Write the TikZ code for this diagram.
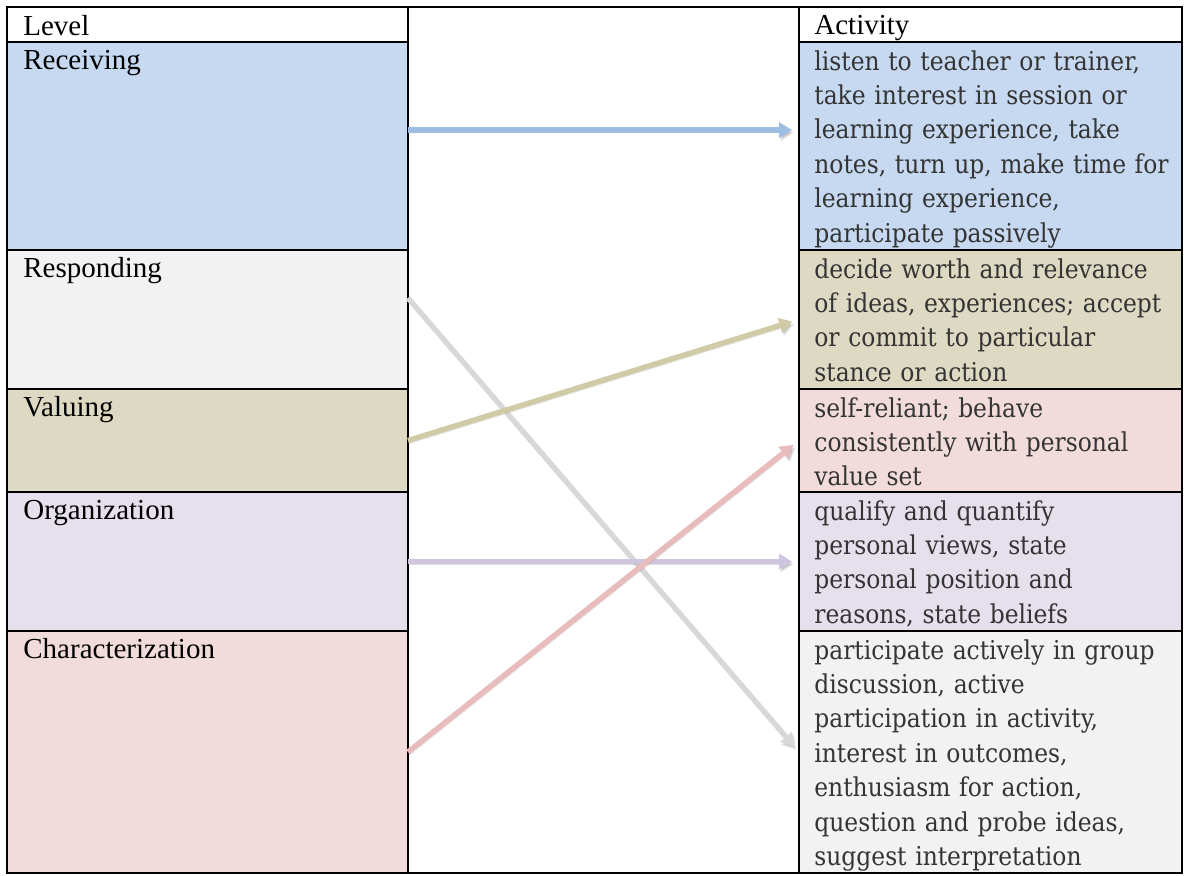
\documentclass[tikz,border=0pt]{standalone}
\usepackage{fontspec}
\setmainfont{Liberation Serif}
\newfontfamily\actfont{DejaVu Serif Condensed}
\usetikzlibrary{positioning, arrows.meta}

\definecolor{recvblue}{RGB}{198,217,241}
\definecolor{respgray}{RGB}{242,242,242}
\definecolor{valutan}{RGB}{221,217,195}
\definecolor{orglilac}{RGB}{229,224,236}
\definecolor{charpink}{RGB}{242,220,219}
\definecolor{recvarrow}{RGB}{157,189,228}
\definecolor{resparrow}{RGB}{216,216,216}
\definecolor{valuarrow}{RGB}{209,202,166}
\definecolor{orgarrow}{RGB}{207,197,222}
\definecolor{chararrow}{RGB}{232,188,188}
\definecolor{acttext}{RGB}{52,52,52}

\tikzstyle{cell} = [draw=black, line width=1pt, inner sep=0pt, outer sep=0pt, anchor=north west]
\tikzstyle{leftcell} = [cell, minimum width=200.5pt]
\tikzstyle{rightcell} = [cell, minimum width=191.5pt]
\tikzstyle{levelname} = [anchor=base west, inner sep=0pt, font=\fontsize{14.5}{17}\selectfont]
\tikzstyle{activity} = [anchor=base west, inner sep=0pt, align=left, text width=187pt, text=acttext,
                        font=\actfont\fontsize{13}{17.2}\selectfont]
\tikzstyle{link} = [line width=2.7pt, -{Triangle[length=6.5pt, width=7.5pt]}, shorten >=3.5pt,
                    preaction={draw=black, opacity=0.13, transform canvas={shift={(0.8pt,-1.4pt)}}}]

\begin{document}
\begin{tikzpicture}[x=0.5pt, y=-0.5pt]
	\useasboundingbox (0,0) rectangle (1185,875);

	% level column
	\node[leftcell, minimum height=17.5pt] (hdLevel) at (7,7) {};
	\node[leftcell, fill=recvblue, minimum height=104pt, below=0pt of hdLevel] (recv) {};
	\node[leftcell, fill=respgray, minimum height=69.5pt, below=0pt of recv] (resp) {};
	\node[leftcell, fill=valutan, minimum height=51.5pt, below=0pt of resp] (valu) {};
	\node[leftcell, fill=orglilac, minimum height=69.5pt, below=0pt of valu] (org) {};
	\node[leftcell, fill=charpink, minimum height=121pt, below=0pt of org] (char) {};

	% empty middle column
	\node[cell, minimum width=195.5pt, minimum height=433pt] (mid) at (408,7) {};

	% activity column
	\node[rightcell, minimum height=17.5pt, right=195.5pt of hdLevel] (hdAct) {};
	\node[rightcell, fill=recvblue, minimum height=104pt, right=195.5pt of recv] (actRecv) {};
	\node[rightcell, fill=valutan, minimum height=69.5pt, right=195.5pt of resp] (actResp) {};
	\node[rightcell, fill=charpink, minimum height=51.5pt, right=195.5pt of valu] (actValu) {};
	\node[rightcell, fill=orglilac, minimum height=69.5pt, right=195.5pt of org] (actOrg) {};
	\node[rightcell, fill=respgray, minimum height=121pt, right=195.5pt of char] (actChar) {};

	\node[levelname] (tLevel) at ([xshift=8pt, yshift=-14pt]hdLevel.north west) {Level};
	\node[levelname] (tRecv) at ([xshift=8pt, yshift=-13.5pt]recv.north west) {Receiving};
	\node[levelname] (tResp) at ([xshift=8pt, yshift=-13.5pt]resp.north west) {Responding};
	\node[levelname] (tValu) at ([xshift=8pt, yshift=-13.5pt]valu.north west) {Valuing};
	\node[levelname] (tOrg) at ([xshift=8pt, yshift=-13.5pt]org.north west) {Organization};
	\node[levelname] (tChar) at ([xshift=8pt, yshift=-13.5pt]char.north west) {Characterization};

	\node[levelname] (tAct) at ([xshift=7.5pt, yshift=-13.5pt]hdAct.north west) {Activity};
	\node[activity] (tActRecv) at ([xshift=7.5pt, yshift=-14pt]actRecv.north west)
		{listen to teacher or trainer,\\ take interest in session or\\ learning experience, take\\
		 notes, turn up, make time for\\ learning experience,\\ participate passively};
	\node[activity] (tActResp) at ([xshift=7.5pt, yshift=-14pt]actResp.north west)
		{decide worth and relevance\\ of ideas, experiences; accept\\ or commit to particular\\ stance or action};
	\node[activity] (tActValu) at ([xshift=7.5pt, yshift=-14pt]actValu.north west)
		{self-reliant; behave\\ consistently with personal\\ value set};
	\node[activity] (tActOrg) at ([xshift=7.5pt, yshift=-14pt]actOrg.north west)
		{qualify and quantify\\ personal views, state\\ personal position and\\ reasons, state beliefs};
	\node[activity] (tActChar) at ([xshift=7.5pt, yshift=-14pt]actChar.north west)
		{participate actively in group\\ discussion, active\\ participation in activity,\\
		 interest in outcomes,\\ enthusiasm for action,\\ question and probe ideas,\\ suggest interpretation};

	% links between levels and activities
	\draw[link, recvarrow] ([yshift=8pt]recv.east) -- ([yshift=8pt]actRecv.west);
	\draw[link, resparrow] ([yshift=10.75pt]resp.east) -- (actChar.west);
	\draw[link, valuarrow] (valu.east) -- (actResp.west);
	\draw[link, orgarrow] (org.east) -- (actOrg.west);
	\draw[link, chararrow] (char.east) -- (actValu.west);
\end{tikzpicture}
\end{document}
